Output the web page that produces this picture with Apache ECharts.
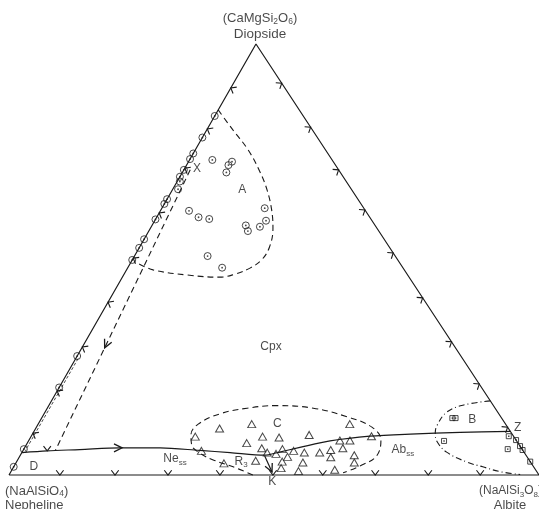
<!DOCTYPE html>
<html>
<head>
<meta charset="utf-8">
<script src="https://cdn.jsdelivr.net/npm/echarts@6/dist/echarts.min.js"></script>
<style>
  html, body { margin: 0; padding: 0; background: #fff; }
  #chart { width: 539px; height: 509px; }
</style>
</head>
<body>
<div id="chart"></div>
<script>
// Ternary diagram Diopside – Nepheline – Albite.
// Every composition is written as wt% [Di, Ab]; Ne makes up the rest.

const cornerDi = [100, 0];
const cornerNe = [0, 0];
const cornerAb = [0, 100];

// Temperature arrows on the three joins and on the Ne–Ab boundary
const tickNeDi = [89.8, 80.3, 71.2, 60.8, 50.3, 40.1, 29.7, 19.5, 9.7];   // Di %
const tickDiAb = [90.9, 80.7, 70.8, 61.5, 51.5, 41.1, 30.9, 21.1, 11.1];  // Di %
const tickNeAb = [9.6, 20.0, 30.0, 39.8, 49.8, 59.2, 69.1, 79.1, 88.9];   // Ab %
const tickCotectic = [[5.6, 4.6]];

// Analysed clinopyroxenes (field A)
const groupA = [
  [83.3, 0], [78.3, 0], [74.6, 0], [73.3, 0], [70.8, 0], [69.2, 0], [68.1, 0.5],
  [66.3, 1.0], [64.0, 0], [62.9, 0], [59.3, 0], [54.7, 0], [52.7, 0], [49.9, 0],
  [27.6, 0], [20.3, 0], [6.0, 0], [1.9, 0],
  [73.1, 4.3], [72.7, 8.2], [71.9, 7.9], [70.2, 8.3], [61.3, 5.4], [59.8, 7.9],
  [59.4, 10.1], [61.9, 19.4], [59.0, 21.0], [57.6, 20.5], [57.9, 17.7], [56.6, 18.7],
  [50.8, 13.8], [48.1, 17.8]
];

// Bulk compositions (field C)
const groupC = [
  [8.9, 31.0], [10.8, 34.7], [11.8, 40.3], [11.8, 58.8], [5.6, 33.7], [7.4, 41.4],
  [8.9, 43.7], [8.7, 46.9], [9.3, 52.3], [9.0, 64.2], [6.2, 44.8], [5.2, 46.3],
  [4.9, 48.1], [6.0, 48.8], [5.6, 51.1], [5.2, 53.3], [5.2, 56.2], [5.8, 58.0],
  [8.0, 58.7], [8.0, 60.6], [6.2, 60.1], [4.1, 58.8], [4.6, 63.0], [2.9, 63.8],
  [4.2, 50.6], [3.1, 50.1], [1.6, 50.6], [3.3, 45.0], [2.7, 39.3], [2.9, 54.1],
  [0.9, 54.2], [1.2, 60.9]
];

// Feldspar-rich compositions (field B)
const groupB = [
  [13.2, 77.5], [13.2, 78.1], [7.9, 78.4], [9.0, 90.1], [6.0, 91.3],
  [8.1, 91.9], [6.7, 93.3], [5.8, 94.2], [3.1, 96.9]
];

// Boundary curves
const cotectic = [
  [5.2, 0], [5.6, 4.6], [5.9, 10.6], [6.3, 18.0], [6.3, 25.6], [5.7, 33.3], [5.2, 39.3],
  [4.6, 46.1], [5.2, 48.2], [6.4, 51.9], [7.9, 56.9], [9.0, 63.9], [9.5, 71.3],
  [9.9, 80.5], [10.1, 89.9]
];
const fieldA = [
  [84.7, 0], [80.0, 5.0], [75.4, 10.0], [70.3, 14.6], [66.1, 17.9], [61.5, 20.9],
  [57.3, 23.1], [52.9, 24.5], [49.9, 24.4], [48.0, 23.1], [46.6, 20.9], [45.9, 18.4],
  [46.4, 12.0], [47.6, 5.0], [49.2, 1.3]
];
const pathX = [[70.8, 1.2], [5.6, 6.1]];
const flankNe = [[27.0, 0.45], [5.6, 0.45]];
const fieldC = [
  [0, 46.0], [1.9, 41.4], [3.5, 36.9], [5.1, 33.6], [7.0, 31.2], [9.3, 30.0], [11.8, 30.2],
  [14.2, 33.2], [15.5, 37.7], [16.1, 43.1], [15.5, 50.2], [13.5, 57.5], [11.1, 63.3],
  [8.1, 66.4], [4.4, 67.3], [2.3, 65.5], [0.5, 62.8]
];
const fieldB = [
  [17.2, 82.8], [16.2, 78.1], [14.6, 75.8], [11.6, 75.4], [9.7, 75.9], [7.7, 77.2],
  [5.3, 80.1], [3.0, 85.0], [1.9, 88.5], [0.8, 92.2], [0.1, 96.4]
];
const pathR3K = [[4.4, 46.2], [0.7, 49.3]];

// Direction arrows: [tip, a point behind the tip]
const arrows = [
  [[6.3, 18.4], [6.3, 16.2]],
  [[29.5, 4.3], [34.6, 3.9]],
  [[0.7, 49.3], [4.4, 46.2]]
];

// Corner labels and field labels ("_" starts a subscript)
const cornerText = {
  Di: ['(CaMgSi_2O_6)', 'Diopside'],
  Ne: ['(NaAlSiO_4)', 'Nepheline'],
  Ab: ['(NaAlSi_3O_8)', 'Albite']
};
const fieldText = [
  ['A', [66.1, 13.2]], ['X', [71.0, 2.4]], ['Cpx', [29.7, 35.6]], ['C', [11.9, 45.1]],
  ['B', [12.9, 81.4]], ['Z', [10.9, 90.9]], ['Ab_ss', [5.8, 71.6]], ['Ne_ss', [3.7, 29.6]],
  ['R_3', [3.2, 42.3]], ['K', [-1.6, 50.4]], ['D', [1.9, 3.8]]
];

// ---- drawing ----
const APEX = 46.6;          // horizontal place of the Di corner, % of the base
const INK = '#1a1a1a';
const FONT = 'Liberation Sans, Arial, sans-serif';

const toXY = p => [p[1] + p[0] * APEX / 100, p[0]];
const xy = list => list.map(toXY);

function rich(str, size) {
  const n = size || 'n', s = { n: 's', N: 'S', D: 'S' }[n];
  return str.split(/_(\d+|[a-z]+)/)
    .map((t, i) => t === '' ? '' : (i % 2 ? '{' + s + '|' + t + '}' : '{' + n + '|' + t + '}'))
    .join('');
}
const richStyles = {
  n: { fontFamily: FONT, fontSize: 12, color: INK, lineHeight: 15, verticalAlign: 'middle' },
  s: { fontFamily: FONT, fontSize: 8, color: INK, lineHeight: 8, verticalAlign: 'bottom' },
  N: { fontFamily: FONT, fontSize: 13, color: INK, lineHeight: 15, verticalAlign: 'middle' },
  D: { fontFamily: FONT, fontSize: 13.5, color: INK, lineHeight: 15, verticalAlign: 'middle' },
  S: { fontFamily: FONT, fontSize: 8.5, color: INK, lineHeight: 8, verticalAlign: 'bottom' }
};

const EDGES = [
  [cornerNe, cornerDi, cornerAb],
  [cornerDi, cornerAb, cornerNe],
  [cornerNe, cornerAb, cornerDi]
];
const tickData = [].concat(
  tickNeDi.map(d => toXY([d, 0]).concat(0)),
  tickDiAb.map(d => toXY([d, 100 - d]).concat(1)),
  tickNeAb.map(a => toXY([0, a]).concat(2)),
  tickCotectic.map(p => toXY(p).concat(2))
);

function chevron(params, api) {
  const p = api.coord([api.value(0), api.value(1)]);
  const [e1, e2, opp] = EDGES[api.value(2)].map(c => api.coord(toXY(c)));
  let tx = e2[0] - e1[0], ty = e2[1] - e1[1];
  const tl = Math.hypot(tx, ty); tx /= tl; ty /= tl;
  let nx = -ty, ny = tx;
  if ((opp[0] - p[0]) * nx + (opp[1] - p[1]) * ny < 0) { nx = -nx; ny = -ny; }
  const L = 6, a = 38 * Math.PI / 180;
  const arm = s => [p[0] + L * (nx * Math.cos(a) - s * ny * Math.sin(a)),
                    p[1] + L * (s * nx * Math.sin(a) + ny * Math.cos(a))];
  return { type: 'polyline', shape: { points: [arm(1), p, arm(-1)] },
           style: { stroke: INK, lineWidth: 1.1, fill: null } };
}

function arrowHead(params, api) {
  const tip = api.coord([api.value(0), api.value(1)]);
  const back = api.coord([api.value(2), api.value(3)]);
  let dx = back[0] - tip[0], dy = back[1] - tip[1];
  const l = Math.hypot(dx, dy); dx /= l; dy /= l;
  const L = 9, a = 26 * Math.PI / 180;
  const wing = s => [tip[0] + L * (dx * Math.cos(a) - s * dy * Math.sin(a)),
                     tip[1] + L * (s * dx * Math.sin(a) + dy * Math.cos(a))];
  return { type: 'polyline', shape: { points: [wing(1), tip, wing(-1)] },
           style: { stroke: INK, lineWidth: 1.3, fill: null } };
}

const curve = (pts, type, width, smooth) => ({
  type: 'line', data: xy(pts), symbol: 'none', clip: false, silent: true,
  smooth: smooth || false, lineStyle: { color: INK, width: width, type: type }, z: 2
});
const marks = (pts, symbol, size, filled) => ({
  type: 'scatter', data: xy(pts), symbol: symbol, symbolSize: size, clip: false, silent: true,
  itemStyle: filled ? { color: INK } : { color: 'rgba(0,0,0,0)', borderColor: INK, borderWidth: 1 },
  z: 4
});

// one text line attached to a corner, placed by a pixel offset from that corner
const cornerLine = (corner, text, size, offset, align) => ({
  value: toXY(corner),
  label: { show: true, formatter: rich(text, size), rich: richStyles,
           position: offset, align: align, verticalAlign: 'middle' }
});

const chart = echarts.init(document.getElementById('chart'));
chart.setOption({
  animation: false,
  backgroundColor: '#fff',
  grid: { left: 9, top: 44, width: 530, height: 431 },
  xAxis: { type: 'value', min: 0, max: 100, show: false },
  yAxis: { type: 'value', min: 0, max: 100, show: false },
  series: [
    curve([cornerNe, cornerAb, cornerDi, cornerNe], 'solid', 1.2),
    curve(cotectic, 'solid', 1.2, 0.3),
    curve(pathR3K, 'solid', 1.2),
    curve(fieldA, [6, 4], 1.1, 0.4),
    curve(pathX, [6, 4], 1.1),
    curve(flankNe, [3, 2], 0.8),
    curve(fieldC, [6, 4], 1.1, 0.4),
    curve(fieldB, [6, 3, 1, 3], 1.1, 0.4),
    {
      type: 'custom', renderItem: chevron, data: tickData, clip: false, silent: true,
      encode: { x: 0, y: 1 }, z: 3
    },
    {
      type: 'custom', renderItem: arrowHead, clip: false, silent: true, z: 3,
      data: arrows.map(([t, b]) => toXY(t).concat(toXY(b))),
      encode: { x: [0, 2], y: [1, 3] }
    },
    marks(groupA, 'circle', 7, false),
    marks(groupA, 'circle', 1.8, true),
    marks(groupC, 'triangle', [8, 7], false),
    marks(groupB, 'rect', 5, false),
    marks(groupB, 'rect', 1.5, true),
    {
      type: 'scatter', symbolSize: 0, clip: false, silent: true, z: 5,
      data: fieldText.map(([t, p]) => ({
        value: toXY(p),
        label: { show: true, position: 'inside', formatter: rich(t), rich: richStyles }
      }))
    },
    {
      type: 'scatter', symbolSize: 0, clip: false, silent: true, z: 5,
      data: [
        cornerLine(cornerDi, cornerText.Di[0], 'N', [4, -25.5], 'center'),
        cornerLine(cornerDi, cornerText.Di[1], 'D', [4, -9.5], 'center'),
        cornerLine(cornerNe, cornerText.Ne[0], 'N', [-4, 16], 'left'),
        cornerLine(cornerNe, cornerText.Ne[1], 'N', [-4, 30], 'left'),
        cornerLine(cornerAb, cornerText.Ab[0], 'n', [-60, 16], 'left'),
        cornerLine(cornerAb, cornerText.Ab[1], 'N', [-29, 30], 'center')
      ]
    }
  ]
});
</script>
</body>
</html>
